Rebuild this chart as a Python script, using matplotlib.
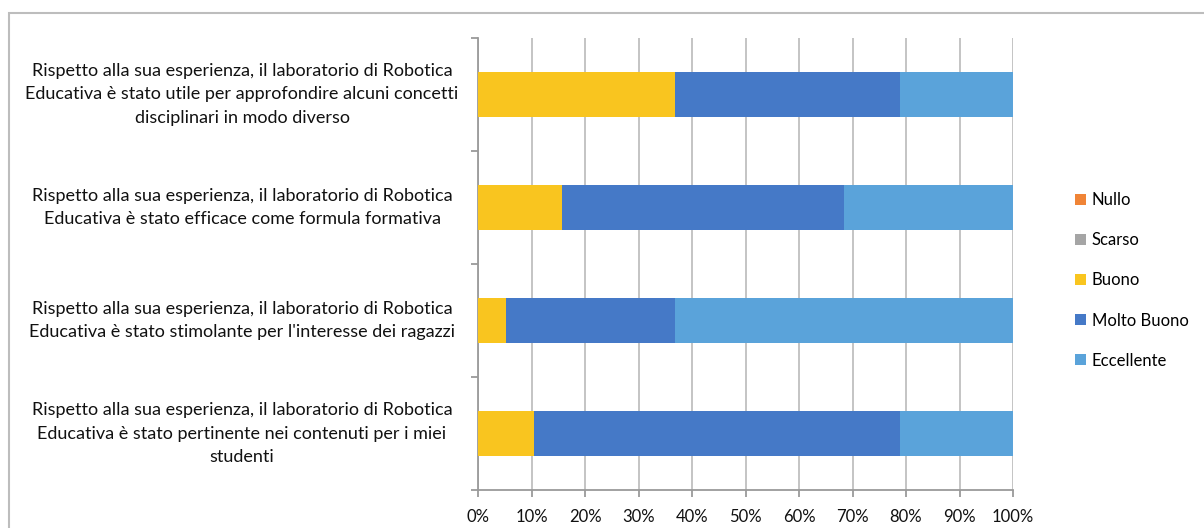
import matplotlib
matplotlib.use("Agg")
import matplotlib.pyplot as plt
import matplotlib.transforms as mtransforms
from matplotlib.patches import Rectangle, Patch
from matplotlib.ticker import PercentFormatter, MultipleLocator

# Questions (top to bottom) and number of answers per rating (19 respondents)
questions = [
    "Rispetto alla sua esperienza, il laboratorio di Robotica\nEducativa è stato utile per approfondire alcuni concetti\ndisciplinari in modo diverso",
    "Rispetto alla sua esperienza, il laboratorio di Robotica\nEducativa è stato efficace come formula formativa",
    "Rispetto alla sua esperienza, il laboratorio di Robotica\nEducativa è stato stimolante per l'interesse dei ragazzi",
    "Rispetto alla sua esperienza, il laboratorio di Robotica\nEducativa è stato pertinente nei contenuti per i miei\nstudenti",
]
ratings = ["Nullo", "Scarso", "Buono", "Molto Buono", "Eccellente"]
nullo = [0, 0, 0, 0]
scarso = [0, 0, 0, 0]
buono = [7, 3, 1, 2]
molto_buono = [8, 10, 6, 13]
eccellente = [4, 6, 12, 4]

colors = ["#F08436", "#A5A5A5", "#F9C51F", "#4579C7", "#5AA3DA"]

plt.rcParams["font.family"] = ["Lato", "DejaVu Sans"]

fig = plt.figure(figsize=(12.04, 5.28), dpi=100)
W, H = 1204, 528
ax = fig.add_axes([478 / W, 1 - 490 / H, (1013 - 478) / W, (490 - 38) / H])

# outer chart border
fig.patches.append(Rectangle((9 / W, -0.05), 1.2, 1 - 13 / H + 0.05,
                             transform=fig.transFigure, fill=False,
                             edgecolor="#BDBDBD", linewidth=1.5))

series = [nullo, scarso, buono, molto_buono, eccellente]
n = len(questions)
totals = [sum(s[i] for s in series) for i in range(n)]
ypos = list(range(n))
left = [0.0] * n
for name, vals, col in zip(ratings, series, colors):
    pct = [v / t * 100 for v, t in zip(vals, totals)]
    ax.barh(ypos, pct, left=left, height=0.4, color=col, zorder=3)
    left = [l + p for l, p in zip(left, pct)]

ax.set_xlim(0, 100)
ax.set_ylim(n - 0.5, -0.5)
ax.xaxis.set_major_locator(MultipleLocator(10))
ax.xaxis.set_major_formatter(PercentFormatter(decimals=0))
ax.grid(axis="x", color="#BFBFBF", linewidth=1.3, zorder=0)

ax.set_yticks([i - 0.5 for i in range(n + 1)])
ax.set_yticklabels([])
ax.tick_params(axis="y", length=5, color="#9A9A9A", width=1.3)
ax.tick_params(axis="x", length=5, color="#9A9A9A", width=1.3, labelsize=12,
               pad=9, labelcolor="#111111")
for side in ["top", "right"]:
    ax.spines[side].set_visible(False)
for side in ["left", "bottom"]:
    ax.spines[side].set_color("#9A9A9A")
    ax.spines[side].set_linewidth(1.3)

# question labels, centred in the left area
trans = mtransforms.blended_transform_factory(fig.transFigure, ax.transData)
for i, q in enumerate(questions):
    ax.text(242 / W, i, q, transform=trans, ha="center", va="center",
            multialignment="center", fontsize=13, color="#111111",
            linespacing=1.55)

handles = [Patch(facecolor=c, edgecolor="none") for c in colors]
fig.legend(handles, ratings, loc="upper left",
           bbox_to_anchor=(1060 / W, 1 - 177 / H), frameon=False,
           fontsize=12, handlelength=0.65, handleheight=0.65,
           handletextpad=0.35, labelspacing=1.45)

fig.savefig("out.png", dpi=100)
